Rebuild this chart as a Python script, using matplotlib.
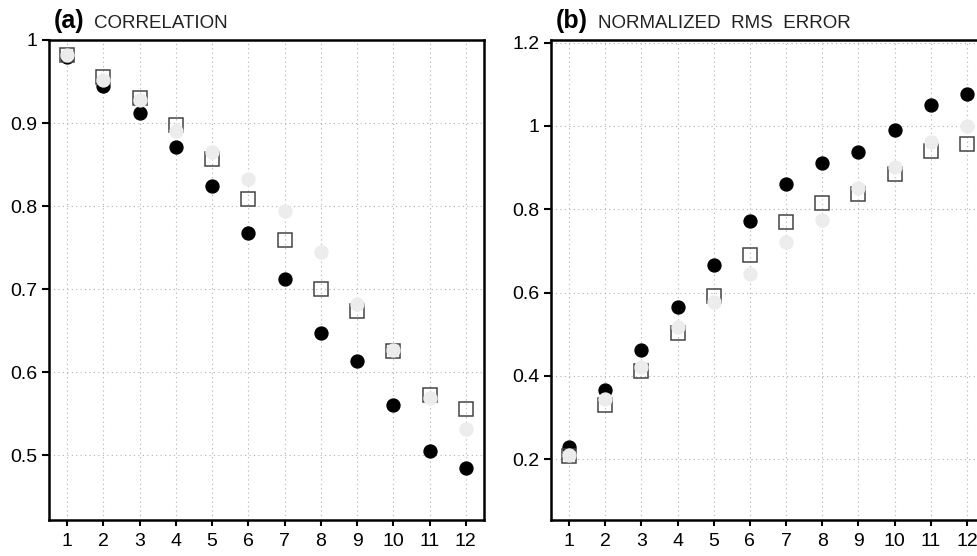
import numpy as np
import matplotlib
matplotlib.use("Agg")
import matplotlib.pyplot as plt
from matplotlib.ticker import FuncFormatter

plt.rcParams['font.family'] = ['Liberation Sans', 'DejaVu Sans']

months = np.arange(1, 13)

# (a) correlation
corr_black = [0.979, 0.945, 0.912, 0.871, 0.824, 0.768, 0.712, 0.647, 0.614, 0.560, 0.505, 0.485]
corr_square = [0.982, 0.955, 0.930, 0.898, 0.857, 0.808, 0.759, 0.700, 0.674, 0.625, 0.573, 0.556]
corr_gray = [0.982, 0.952, 0.928, 0.891, 0.865, 0.833, 0.794, 0.745, 0.682, 0.627, 0.569, 0.531]

# (b) normalized rms error
rms_black = [0.228, 0.366, 0.463, 0.565, 0.665, 0.772, 0.860, 0.911, 0.938, 0.990, 1.050, 1.076]
rms_square = [0.208, 0.330, 0.412, 0.503, 0.592, 0.689, 0.770, 0.816, 0.837, 0.885, 0.941, 0.957]
rms_gray = [0.210, 0.344, 0.422, 0.517, 0.577, 0.645, 0.721, 0.773, 0.851, 0.902, 0.962, 1.000]

fig = plt.figure(figsize=(9.77, 5.56), dpi=100)
ax1 = fig.add_axes([49 / 977, 1 - 520 / 556, 435 / 977, 480 / 556])
ax2 = fig.add_axes([551 / 977, 1 - 520 / 556, 434 / 977, 480 / 556])

tick_font = ['Liberation Sans Narrow', 'Liberation Sans', 'DejaVu Sans']


def draw(ax, black, square, gray, ylim, yticks, label, title, title_x):
    ax.plot(months, black, 'o', ms=9.3, color='black', zorder=3)
    ax.plot(months, square, 's', ms=9.6, mfc='none', mec='#444444', mew=1.1, zorder=4)
    ax.plot(months, gray, 'o', ms=9.3, color='#ececec', zorder=5)
    ax.set_xlim(0.5, 12.5)
    ax.set_ylim(*ylim)
    ax.set_xticks(months)
    ax.set_yticks(yticks)
    ax.yaxis.set_major_formatter(FuncFormatter(lambda v, p: '%g' % round(v, 2)))
    ax.grid(True, color='#b0b0b0', linestyle=(0, (1, 3)), linewidth=0.8, zorder=0)
    for s in ax.spines.values():
        s.set_linewidth(1.8)
    ax.tick_params(axis='both', direction='out', labelsize=14, width=1.5)
    ax.tick_params(axis='x', length=4.5, pad=5)
    ax.tick_params(axis='y', length=5, pad=3.5)
    for t in ax.get_xticklabels() + ax.get_yticklabels():
        t.set_family(tick_font)
    ax.text(0.012, 1.025, label, transform=ax.transAxes, fontsize=18,
            fontweight='bold', ha='left', va='baseline')
    ax.text(title_x, 1.025, title, transform=ax.transAxes, fontsize=13.5,
            color='#222222', ha='left', va='baseline')


draw(ax1, corr_black, corr_square, corr_gray, (0.422, 1.0),
     [0.5, 0.6, 0.7, 0.8, 0.9, 1.0], '(a)', 'CORRELATION', 0.103)
draw(ax2, rms_black, rms_square, rms_gray, (0.0536, 1.2065),
     [0.2, 0.4, 0.6, 0.8, 1.0, 1.2], '(b)', 'NORMALIZED  RMS  ERROR', 0.108)

fig.savefig('out.png', dpi=100)
